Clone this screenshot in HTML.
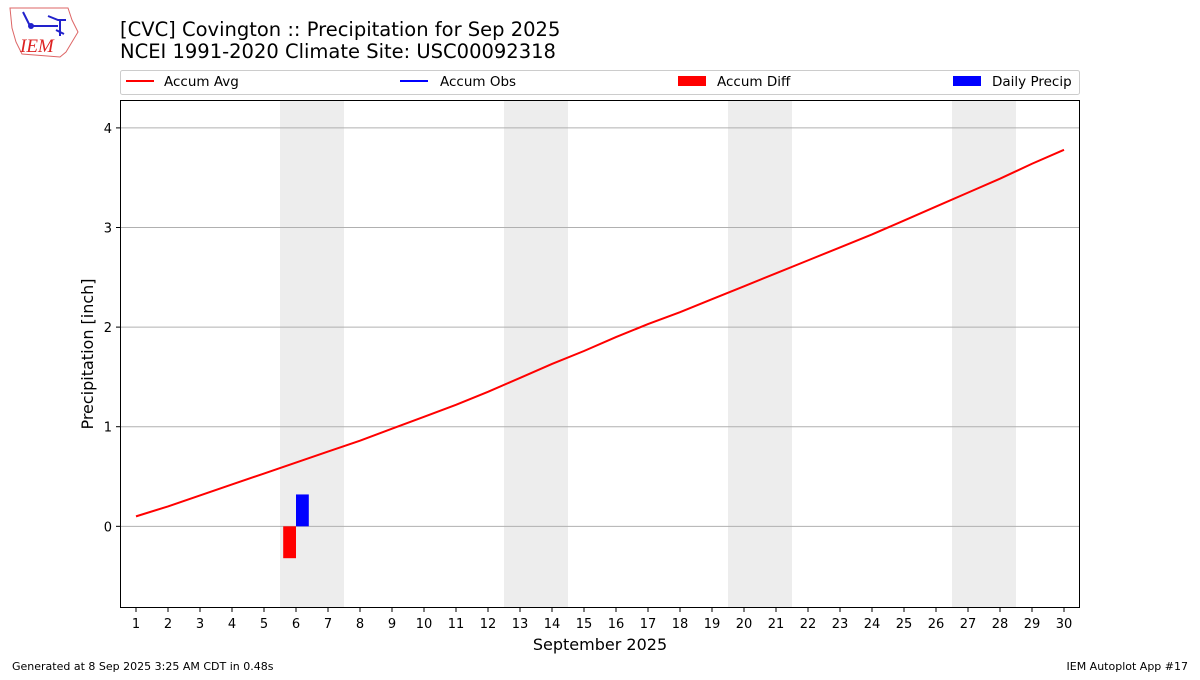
<!DOCTYPE html>
<html><head><meta charset="utf-8"><style>
body{margin:0;background:#fff;width:1200px;height:675px;overflow:hidden;font-family:"Liberation Sans","DejaVu Sans",sans-serif}
</style></head><body>
<svg id="chart" width="1200" height="675" xmlns="http://www.w3.org/2000/svg" font-family="DejaVu Sans, Liberation Sans, sans-serif">
<g>
<path d="M10 8 L68 8 L72 20 L78 32 L72 42 L66 52 L60 57 L22 54 L16 42 L12 28 Z" fill="none" stroke="#d66" stroke-width="1"/>
<path d="M23 12 L30 26 M30 26 L58 26 M48 16 L58 20 L66 20 M60 20 L60 36 M56 30 L64 34" stroke="#22c" stroke-width="2" fill="none"/>
<circle cx="31" cy="26" r="3" fill="#22c"/>
<text x="20" y="52" font-family="Liberation Serif, serif" font-style="italic" font-size="19" fill="#d22">IEM</text>
</g>
<text x="120" y="36" font-size="19.5" fill="#000">[CVC] Covington :: Precipitation for Sep 2025</text>
<text x="120" y="58" font-size="19.5" fill="#000">NCEI 1991-2020 Climate Site: USC00092318</text>
<g>
<rect x="120.5" y="70.5" width="959" height="24" fill="#fff" stroke="#ccc" rx="2"/>
<g><line x1="126" y1="81" x2="154" y2="81" stroke="red" stroke-width="2"/><text x="164" y="86" font-size="13.5">Accum Avg</text></g>
<g><line x1="400" y1="81" x2="428" y2="81" stroke="blue" stroke-width="2"/><text x="440" y="86" font-size="13.5">Accum Obs</text></g>
<g><rect x="678" y="76" width="28" height="10" fill="red"/><text x="717" y="86" font-size="13.5">Accum Diff</text></g>
<g><rect x="953" y="76" width="28" height="10" fill="blue"/><text x="992" y="86" font-size="13.5">Daily Precip</text></g>
</g>
<g id="plot"></g>
<text x="600" y="650" text-anchor="middle" font-size="16">September 2025</text>
<text transform="translate(93,354) rotate(-90)" text-anchor="middle" font-size="16">Precipitation [inch]</text>
<text x="12" y="670" font-size="11">Generated at 8 Sep 2025 3:25 AM CDT in 0.48s</text>
<text x="1188" y="670" font-size="11" text-anchor="end">IEM Autoplot App #17</text>
</svg>
<script>
const days=[1,2,3,4,5,6,7,8,9,10,11,12,13,14,15,16,17,18,19,20,21,22,23,24,25,26,27,28,29,30];
const accumAvg=[0.10,0.20,0.31,0.42,0.53,0.64,0.75,0.86,0.98,1.10,1.22,1.35,1.49,1.63,1.76,1.90,2.03,2.15,2.28,2.41,2.54,2.67,2.80,2.93,3.07,3.21,3.35,3.49,3.64,3.78];
const precipDays=[6];
const dailyPrecip=[0.32];
const accumDiff=[-0.32];
const weekendStarts=[6,13,20,27];
const yTicks=[0,1,2,3,4];
const X0=120,X1=1080,Y0=100,Y1=608,xmin=0.5,xmax=30.5,ymin=-0.82,ymax=4.28;
const xs=d=>X0+(d-xmin)/(xmax-xmin)*(X1-X0);
const ys=v=>Y1-(v-ymin)/(ymax-ymin)*(Y1-Y0);
const NS="http://www.w3.org/2000/svg";
const g=document.getElementById('plot');
function mk(t,a){const e=document.createElementNS(NS,t);for(const k in a)e.setAttribute(k,a[k]);g.appendChild(e);return e;}
weekendStarts.forEach(d=>{const e=mk('rect',{x:xs(d-0.5),y:Y0,width:xs(d+1.5)-xs(d-0.5),height:Y1-Y0,fill:'#ededed'});

});
yTicks.forEach(v=>{const l=mk('line',{x1:X0,x2:X1,y1:ys(v),y2:ys(v),stroke:'#b0b0b0','stroke-width':1});


mk('line',{x1:X0-4,x2:X0,y1:ys(v),y2:ys(v),stroke:'#000'});
const t=mk('text',{x:X0-8,y:ys(v)+5,'text-anchor':'end','font-size':13});t.textContent=v;

});
days.forEach(d=>{mk('line',{x1:xs(d),x2:xs(d),y1:Y1,y2:Y1+4,stroke:'#000'});
const t=mk('text',{x:xs(d),y:Y1+20,'text-anchor':'middle','font-size':13});t.textContent=d;

});
precipDays.forEach((d,i)=>{
const w=xs(0.4)-xs(0);
const b=mk('rect',{x:xs(d),y:Math.min(ys(dailyPrecip[i]),ys(0)),width:w,height:Math.abs(ys(dailyPrecip[i])-ys(0)),fill:'blue'});


const r=mk('rect',{x:xs(d-0.4),y:Math.min(ys(accumDiff[i]),ys(0)),width:w,height:Math.abs(ys(accumDiff[i])-ys(0)),fill:'red'});

});
const p=mk('polyline',{points:days.map((d,i)=>xs(d)+','+ys(accumAvg[i])).join(' '),fill:'none',stroke:'red','stroke-width':2});


const f=mk('rect',{x:X0+0.5,y:Y0+0.5,width:X1-X0-1,height:Y1-Y0-1,fill:'none',stroke:'#000','stroke-width':1});


</script>
</body></html>
